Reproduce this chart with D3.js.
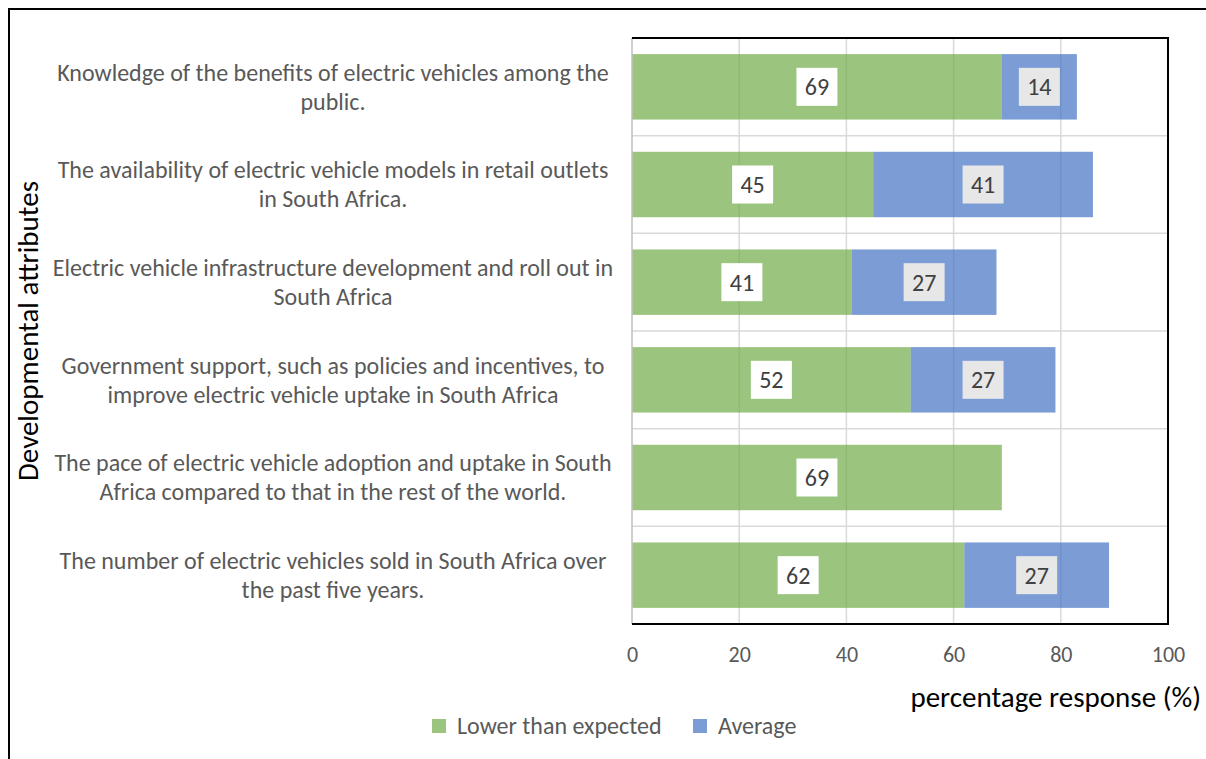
<!DOCTYPE html>
<html>
<head>
<meta charset="utf-8">
<script src="https://cdn.jsdelivr.net/npm/d3@7/dist/d3.min.js"></script>
<style>
  html, body { margin: 0; padding: 0; background: #fff; }
  svg { display: block; }
  text { font-family: Carlito, Lato, "Open Sans", sans-serif; }
</style>
</head>
<body>
<svg id="chart" width="1206" height="759"></svg>
<script>
// Survey attributes (top to bottom), line breaks as they appear in the labels
const categories = [
  "Knowledge of the benefits of electric vehicles among the\npublic.",
  "The availability of electric vehicle models in retail outlets\nin South Africa.",
  "Electric vehicle infrastructure development and roll out in\nSouth Africa",
  "Government support, such as policies and incentives, to\nimprove electric vehicle uptake in South Africa",
  "The pace of electric vehicle adoption and uptake in South\nAfrica compared to that in the rest of the world.",
  "The number of electric vehicles sold in South Africa over\nthe past five years."
];
const lowerThanExpected = [69, 45, 41, 52, 69, 62];
const average = [14, 41, 27, 27, null, 27];
const seriesNames = ["Lower than expected", "Average"];
const xTicks = [0, 20, 40, 60, 80, 100];

const colors = ["#70AD47", "#4472C4"];
const labelFill = ["#FFFFFF", "#E7E7E7"];

const svg = d3.select("#chart");

// Outer chart frame (only top and left edges fall inside the canvas)
svg.append("path")
  .attr("d", "M9,770 L9,9 L1220,9")
  .attr("fill", "none").attr("stroke", "#000").attr("stroke-width", 2);

const plot = { left: 632, right: 1168, top: 38, bottom: 624 };

const x = d3.scaleLinear().domain([0, 100]).range([plot.left, plot.right]);
const y = d3.scaleBand().domain(d3.range(categories.length))
  .range([plot.top, plot.bottom]).paddingInner(0.33).paddingOuter(0.165);

// Vertical gridlines
const g = svg.append("g");
g.selectAll("line.vgrid").data(xTicks.slice(1, -1)).join("line")
  .attr("class", "vgrid")
  .attr("x1", d => x(d)).attr("x2", d => x(d))
  .attr("y1", plot.top).attr("y2", plot.bottom)
  .attr("stroke", "#D9D9D9").attr("stroke-width", 1.5);

// Horizontal gridlines between categories
const rowH = (plot.bottom - plot.top) / categories.length;
g.selectAll("line.hgrid").data(d3.range(1, categories.length)).join("line")
  .attr("class", "hgrid")
  .attr("x1", plot.left).attr("x2", plot.right)
  .attr("y1", i => plot.top + i * rowH)
  .attr("y2", i => plot.top + i * rowH)
  .attr("stroke", "#D9D9D9").attr("stroke-width", 1.5);

// Stacked series
const segs = [];
categories.forEach((c, i) => {
  const lo = lowerThanExpected[i], av = average[i];
  segs.push({ i, s: 0, x0: 0, x1: lo, v: lo });
  if (av != null) segs.push({ i, s: 1, x0: lo, x1: lo + av, v: av });
});

g.selectAll("rect.bar").data(segs).join("rect")
  .attr("class", "bar")
  .attr("x", d => x(d.x0)).attr("width", d => x(d.x1) - x(d.x0))
  .attr("y", d => y(d.i)).attr("height", y.bandwidth())
  .attr("fill", d => colors[d.s]).attr("fill-opacity", 0.7);

// Value labels in boxes
const lbl = g.selectAll("g.lbl").data(segs).join("g").attr("class", "lbl")
  .attr("transform", d => `translate(${(x(d.x0) + x(d.x1)) / 2},${y(d.i) + y.bandwidth() / 2})`);
lbl.append("rect")
  .attr("x", -20.5).attr("y", -19).attr("width", 41).attr("height", 38)
  .attr("fill", d => labelFill[d.s]);
lbl.append("text")
  .attr("text-anchor", "middle").attr("dy", "0.35em")
  .attr("font-size", 24).attr("fill", "#404040")
  .text(d => d.v);

// Plot area border: axis line on the left, dark frame elsewhere
svg.append("line")
  .attr("x1", plot.left).attr("x2", plot.left).attr("y1", plot.top).attr("y2", plot.bottom)
  .attr("stroke", "#BFBFBF").attr("stroke-width", 1.5);
svg.append("path")
  .attr("d", `M${plot.left},${plot.top} H${plot.right} V${plot.bottom} H${plot.left}`)
  .attr("fill", "none").attr("stroke", "#000").attr("stroke-width", 2);

// X axis tick labels
const xAxis = d3.axisBottom(x).tickValues(xTicks).tickSize(0).tickPadding(0);
const xa = svg.append("g").attr("transform", `translate(0,${plot.bottom + 38})`).call(xAxis);
xa.select(".domain").remove();
xa.selectAll("text").attr("font-size", 22).attr("fill", "#595959")
  .attr("font-family", "Carlito, Lato, 'Open Sans', sans-serif").attr("dy", "0");

// Category labels
const cat = svg.append("g").selectAll("text").data(categories).join("text")
  .attr("text-anchor", "middle").attr("font-size", 24).attr("fill", "#595959")
  .attr("transform", (d, i) => `translate(333,${y(i) + y.bandwidth() / 2})`);
cat.each(function (d) {
  const lines = d.split("\n");
  const t = d3.select(this);
  lines.forEach((ln, k) => {
    t.append("tspan").attr("x", 0)
      .attr("y", (k - (lines.length - 1) / 2) * 29)
      .attr("dy", "0.35em").text(ln);
  });
});

// Axis titles
svg.append("text").attr("x", 1201).attr("y", 707).attr("text-anchor", "end")
  .attr("font-size", 29).attr("fill", "#000").text("percentage response (%)");
svg.append("text")
  .attr("transform", `translate(38,${(plot.top + plot.bottom) / 2}) rotate(-90)`)
  .attr("text-anchor", "middle").attr("font-size", 29).attr("fill", "#000")
  .text("Developmental attributes");

// Legend
const legend = svg.append("g").attr("transform", "translate(432,726)");
const items = legend.selectAll("g").data(seriesNames).join("g")
  .attr("transform", (d, i) => `translate(${i === 0 ? 0 : 261},0)`);
items.append("rect").attr("x", 0).attr("y", -7).attr("width", 14).attr("height", 14)
  .attr("fill", (d, i) => colors[i]).attr("fill-opacity", 0.7);
items.append("text").attr("x", 25).attr("dy", "0.35em")
  .attr("font-size", 24).attr("fill", "#595959").text(d => d);
</script>
</body>
</html>
